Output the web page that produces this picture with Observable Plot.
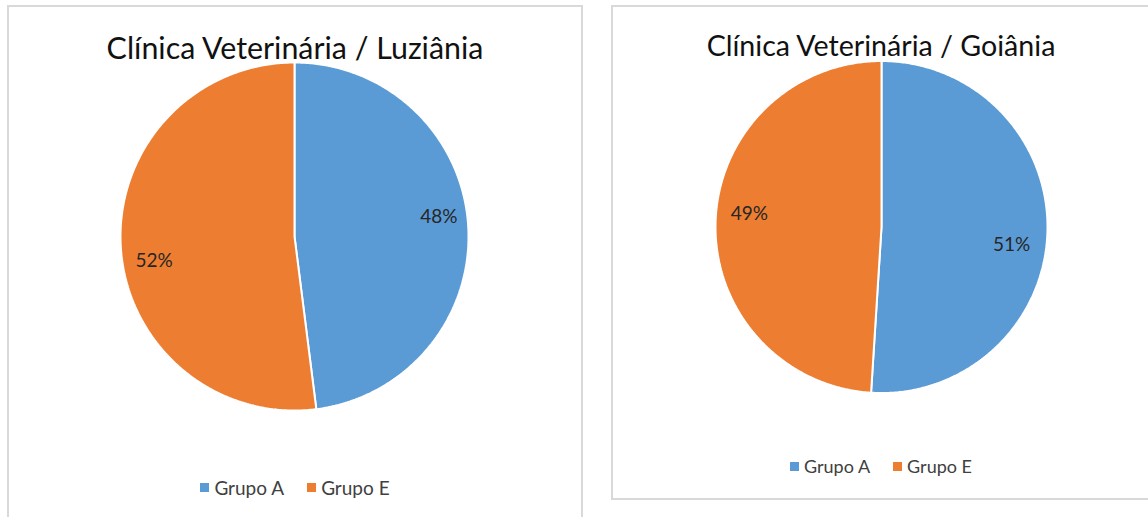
<!DOCTYPE html>
<html>
<head>
<meta charset="utf-8">
<script src="https://cdn.jsdelivr.net/npm/d3@7"></script>
<script src="https://cdn.jsdelivr.net/npm/@observablehq/plot@0.6"></script>
<style>
  html, body { margin: 0; padding: 0; background: #fff; width: 1148px; height: 517px; overflow: hidden; }
  body { font-family: Lato, "Open Sans", "Liberation Sans", sans-serif; position: relative; }
  .panel { position: absolute; border: 2px solid #d9d9d9; box-sizing: border-box; background: #fff; }
  .panel svg { position: absolute; left: 0; top: 0; }
  .title { position: absolute; left: 0; right: 0; text-align: center; color: #111; white-space: nowrap; height: 40px; line-height: 40px; }
  .legend { position: absolute; left: 0; right: 0; display: flex; justify-content: center; align-items: center; gap: 23px; height: 20px; color: #404040; }
  .legend .item { display: flex; align-items: center; gap: 5px; }
  .legend .sw { width: 9px; height: 9px; display: inline-block; }
</style>
</head>
<body>
<script>
// ---- data ----
const titles = ["Clínica Veterinária / Luziânia", "Clínica Veterinária / Goiânia"];
const groups = ["Grupo A", "Grupo E"];
const luzianiaValues = [48, 52];
const goianiaValues = [51, 49];
const groupColors = ["#5B9BD5", "#ED7D31"];

// ---- layout (positions only) ----
const layouts = [
  {left: 7, top: 5, width: 576, height: 530, cx: 285, cy: 229, r: 174, titleY: 20, titleSize: 30.4, legendY: 470, legendSize: 19,
   labelNudge: [[2, -11], [2, 15]]},
  {left: 611, top: 5, width: 540, height: 495, cx: 268, cy: 219.5, r: 166, titleY: 18, titleSize: 28.6, legendY: 449, legendSize: 18,
   labelNudge: [[-6, 14], [4, -9]]}
];
const seriesList = [luzianiaValues, goianiaValues];

function slicesOf(values) {
  const pie = d3.pie().sort(null).value(d => d.value)
    .startAngle(0).endAngle(2 * Math.PI);
  return pie(values.map((v, i) => ({group: groups[i], value: v, color: groupColors[i]})));
}

function arcPoints(s) {
  // polygon from centre along the arc (angles clockwise from 12 o'clock), in unit-radius data space
  const n = Math.max(2, Math.ceil((s.endAngle - s.startAngle) / 0.01));
  const pts = [{x: 0, y: 0}];
  for (let k = 0; k <= n; ++k) {
    const a = s.startAngle + (s.endAngle - s.startAngle) * k / n;
    pts.push({x: Math.sin(a), y: Math.cos(a)});
  }
  pts.push({x: 0, y: 0});
  return pts;
}

titles.forEach((title, p) => {
  const L = layouts[p];
  const panel = document.createElement("div");
  panel.className = "panel";
  Object.assign(panel.style, {left: L.left + "px", top: L.top + "px", width: L.width + "px", height: L.height + "px"});
  document.body.appendChild(panel);

  const innerW = L.width - 4, innerH = L.height - 4;
  const slices = slicesOf(seriesList[p]);
  const labels = slices.map((s, i) => {
    const a = (s.startAngle + s.endAngle) / 2;
    return {x: 0.82 * Math.sin(a), y: 0.82 * Math.cos(a), text: s.data.value + "%",
            dx: L.labelNudge[i][0], dy: L.labelNudge[i][1]};
  });

  const marks = slices.map(s => Plot.line(arcPoints(s), {
    x: "x", y: "y", fill: s.data.color, stroke: "#fff", strokeWidth: 2, strokeLinejoin: "miter"
  }));
  labels.forEach(lb => marks.push(Plot.text([lb], {
    x: "x", y: "y", text: "text", dx: lb.dx, dy: lb.dy, fontSize: 19, fill: "#262626",
    fontFamily: "Lato, 'Open Sans', sans-serif"
  })));

  const svg = Plot.plot({
    width: innerW, height: innerH,
    margin: 0,
    x: {domain: [-1, 1], range: [L.cx - L.r, L.cx + L.r], axis: null},
    y: {domain: [-1, 1], range: [L.cy + L.r, L.cy - L.r], axis: null},
    style: {background: "transparent"},
    marks
  });
  panel.appendChild(svg);

  const t = document.createElement("div");
  t.className = "title";
  t.textContent = title;
  t.style.top = L.titleY + "px";
  t.style.fontSize = L.titleSize + "px";
  panel.appendChild(t);

  const lg = document.createElement("div");
  lg.className = "legend";
  lg.style.top = L.legendY + "px";
  lg.style.fontSize = L.legendSize + "px";
  groups.forEach((g, i) => {
    const it = document.createElement("div");
    it.className = "item";
    const sw = document.createElement("span");
    sw.className = "sw";
    sw.style.background = groupColors[i];
    const tx = document.createElement("span");
    tx.textContent = g;
    it.appendChild(sw); it.appendChild(tx);
    lg.appendChild(it);
  });
  panel.appendChild(lg);
});
</script>
</body>
</html>
